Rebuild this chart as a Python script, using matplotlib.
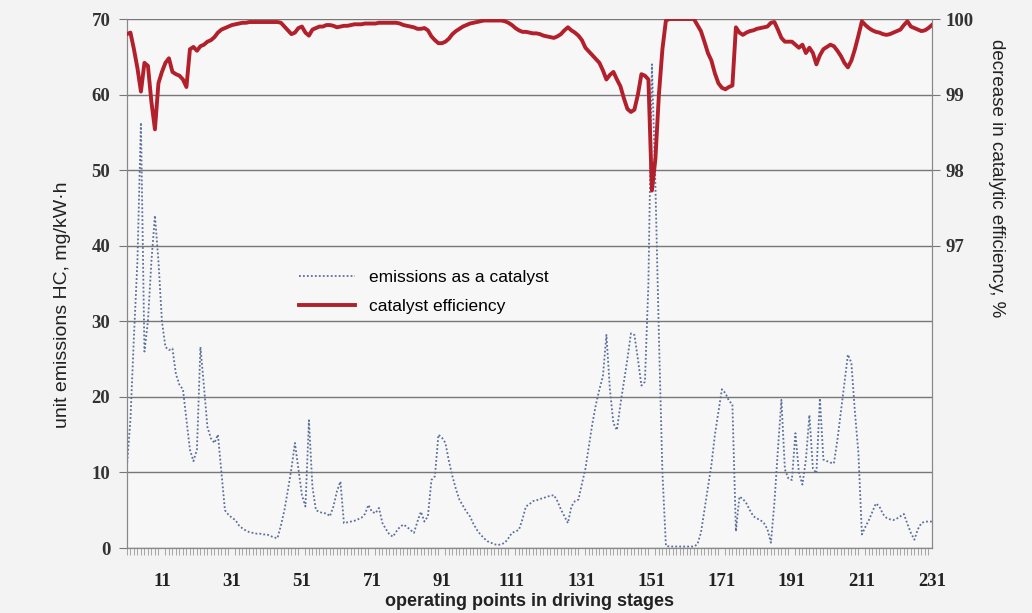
import numpy as np
import matplotlib
matplotlib.use("Agg")
import matplotlib.pyplot as plt
from matplotlib.lines import Line2D

# operating points 1..231
points = np.arange(1, 232)

# HC unit emissions, mg/kW·h
emissions = [
    10.8, 17, 28, 38, 56.3, 26, 30, 38, 44, 38,
    30, 26.6, 26.2, 26.4, 23, 21.6, 21, 17, 13, 11.5,
    13, 26.6, 21.4, 16, 14.5, 13.9, 15, 10, 5, 4.4,
    4, 3.7, 3, 2.6, 2.3, 2.1, 2, 1.9, 1.9, 1.8,
    1.8, 1.6, 1.4, 1.3, 3, 5, 7.7, 10.5, 13.9, 10.4,
    7, 5.5, 16.9, 8.1, 5, 4.8, 4.6, 4.6, 4.2, 5.5,
    7.5, 8.8, 3.3, 3.4, 3.5, 3.6, 3.8, 4, 4.5, 5.7,
    4.8, 4.6, 5.3, 3.3, 2.5, 1.8, 1.5, 2.2, 2.8, 3.1,
    2.8, 2.4, 2, 3.5, 4.8, 3.5, 4.2, 9, 9.5, 15,
    14.6, 13.9, 11.5, 9.5, 7.8, 6.4, 5.6, 4.8, 4.2, 3.2,
    2.4, 1.8, 1.3, 0.9, 0.7, 0.5, 0.4, 0.5, 0.7, 1.3,
    2, 2.2, 2.4, 3.8, 5.5, 5.8, 6.2, 6.3, 6.5, 6.6,
    6.8, 6.9, 7, 6.2, 5.1, 4.2, 3.3, 5.5, 6.2, 6.4,
    8.5, 10.5, 13.5, 16.5, 19, 21, 22.7, 28.2, 21, 16.5,
    15.6, 19, 22, 25, 28.4, 28.2, 25, 21.5, 22, 35,
    64, 48, 28, 10, 0.3, 0.2, 0.2, 0.2, 0.2, 0.2,
    0.2, 0.2, 0.2, 0.5, 2, 5, 8, 11, 15, 18,
    21, 20.5, 19.5, 19, 2.2, 6.8, 6.5, 5.9, 5, 4.2,
    3.9, 3.7, 3.3, 2.5, 0.7, 6, 13, 19.6, 10.4, 9.2,
    9, 15.2, 10, 8.4, 11.7, 17.6, 10.5, 9.9, 19.8, 11.7,
    11.5, 11.3, 11.2, 14.3, 18, 21.8, 25.6, 24.5, 18, 12.6,
    1.8, 2.8, 3.7, 4.8, 5.9, 5.5, 4.5, 4, 3.8, 3.7,
    3.9, 4.2, 4.5, 3.2, 2, 1.1, 2.5, 3.3, 3.5, 3.5,
    3.5,
]

# catalyst efficiency, %
efficiency = [
    99.8, 99.82, 99.6, 99.35, 99.04, 99.42, 99.38, 98.9, 98.54, 99.15,
    99.3, 99.42, 99.48, 99.3, 99.27, 99.25, 99.2, 99.1, 99.6, 99.63,
    99.58, 99.64, 99.66, 99.7, 99.72, 99.76, 99.82, 99.86, 99.88, 99.9,
    99.92, 99.93, 99.94, 99.95, 99.95, 99.96, 99.96, 99.96, 99.96, 99.96,
    99.96, 99.96, 99.96, 99.96, 99.95, 99.9, 99.85, 99.8, 99.82, 99.88,
    99.9, 99.82, 99.78, 99.86, 99.88, 99.9, 99.9, 99.92, 99.92, 99.91,
    99.89, 99.9, 99.91, 99.91, 99.92, 99.93, 99.93, 99.93, 99.94, 99.94,
    99.94, 99.94, 99.95, 99.95, 99.95, 99.95, 99.95, 99.95, 99.94, 99.92,
    99.91, 99.9, 99.89, 99.87, 99.87, 99.88, 99.85, 99.77, 99.72, 99.68,
    99.68, 99.7, 99.74, 99.8, 99.84, 99.87, 99.9, 99.92, 99.94, 99.95,
    99.96, 99.97, 99.98, 99.98, 99.98, 99.98, 99.98, 99.98, 99.97, 99.95,
    99.92, 99.88, 99.85, 99.83, 99.83, 99.82, 99.81, 99.81, 99.8, 99.78,
    99.77, 99.76, 99.75, 99.77, 99.8, 99.85, 99.89, 99.85, 99.82, 99.78,
    99.72, 99.62, 99.57, 99.52, 99.47, 99.42, 99.32, 99.2, 99.26, 99.3,
    99.2, 99.11, 98.95, 98.81, 98.77, 98.8, 99.0, 99.27, 99.25, 99.2,
    97.73, 98.15, 99.0, 99.6, 99.98, 100, 100, 100, 100, 100,
    100, 100, 100, 99.92, 99.84, 99.7, 99.55, 99.45, 99.28, 99.15,
    99.09, 99.07, 99.1, 99.12, 99.89, 99.82, 99.79, 99.82, 99.84, 99.85,
    99.87, 99.88, 99.89, 99.9, 99.95, 99.96, 99.86, 99.75, 99.7, 99.7,
    99.7, 99.66, 99.62, 99.66, 99.55, 99.62, 99.55, 99.4, 99.52, 99.6,
    99.63, 99.66, 99.64, 99.58, 99.51, 99.42, 99.36, 99.45, 99.6, 99.78,
    99.97, 99.92, 99.88, 99.85, 99.83, 99.82, 99.8, 99.79, 99.8, 99.82,
    99.84, 99.86, 99.92, 99.97, 99.9, 99.88, 99.86, 99.84, 99.85, 99.88,
    99.92,
]

xtick_labels = list(range(11, 232, 20))
left_ticks = list(range(0, 71, 10))
right_ticks = [97, 98, 99, 100]

fig = plt.figure(figsize=(10.32, 6.13), dpi=100)
fig.patch.set_facecolor('#f3f3f3')
ax = fig.add_axes([0.123, 0.106, 0.780, 0.863])
ax.set_facecolor('#f7f7f7')
ax2 = ax.twinx()

ax.plot(points, emissions, color='#5b6f9c', lw=1.3, ls=(0, (1, 1.2)), zorder=3)
ax2.plot(points, efficiency, color='#b2202c', lw=2.8, zorder=4)

ax.set_xlim(1, 231)
ax.set_ylim(0, 70)
ax2.set_ylim(93, 100)

ax.set_yticks(left_ticks)
ax.set_xticks(xtick_labels)
ax.set_xticks(points, minor=True)
ax2.set_yticks(right_ticks)

for y in left_ticks:
    ax.axhline(y, color='#777777', lw=1.0, zorder=1)

serif = ['Liberation Serif', 'DejaVu Serif']
for lab in ax.get_yticklabels() + ax2.get_yticklabels():
    lab.set_family(serif)
    lab.set_fontsize(13.5)
    lab.set_fontweight('bold')
    lab.set_color('#333333')
for lab in ax.get_xticklabels():
    lab.set_family(serif)
    lab.set_fontsize(13.5)
    lab.set_fontweight('bold')
    lab.set_color('#222222')

ax.tick_params(axis='y', length=6, color='#777777', pad=6)
ax2.tick_params(axis='y', length=6, color='#777777', pad=4)
ax.tick_params(axis='x', which='major', length=0, pad=18)
ax.tick_params(axis='x', which='minor', length=5, color='#999999', width=0.6)

for a in (ax, ax2):
    for s in a.spines.values():
        s.set_color('#888888')
    a.spines['top'].set_visible(False)

ax.set_ylabel('unit emissions HC, mg/kW·h', fontsize=14, family=['Liberation Sans', 'DejaVu Sans'],
              color='#222222')
ax.yaxis.set_label_coords(-0.07, 0.46)
ax2.set_ylabel('decrease in catalytic efficiency, %', fontsize=13.5, rotation=-90,
               family=['Liberation Sans', 'DejaVu Sans'], color='#222222', va='center')
ax2.yaxis.set_label_coords(1.08, 0.7)
ax.set_xlabel('operating points in driving stages', fontsize=13, fontweight='bold',
              family=['Liberation Sans', 'DejaVu Sans'], color='#222222', va='center')
ax.xaxis.set_label_coords(0.5, -0.102)

handles = [
    Line2D([], [], color='#5b6f9c', lw=1.3, ls=(0, (1, 1.2))),
    Line2D([], [], color='#b2202c', lw=2.8),
]
leg = fig.legend(handles, ['emissions as a catalyst', 'catalyst efficiency'],
                 loc='upper left', bbox_to_anchor=(0.275, 0.585), frameon=False,
                 handlelength=3.2, labelspacing=0.8,
                 prop={'family': ['Liberation Sans', 'DejaVu Sans'], 'size': 12.5})

fig.savefig('out.png', dpi=100, facecolor=fig.get_facecolor())
